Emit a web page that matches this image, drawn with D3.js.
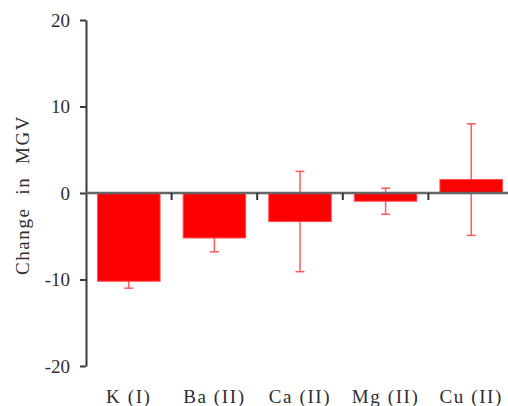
<!DOCTYPE html>
<html>
<head>
<meta charset="utf-8">
<script src="https://cdn.jsdelivr.net/npm/d3@7"></script>
<style>
  body { margin: 0; background: #fff; }
  text { font-family: "Times New Roman", "Liberation Serif", serif; fill: #2e2e2e; }
</style>
</head>
<body>
<div id="viz"></div>
<script>
var categories = ["K (I)", "Ba (II)", "Ca (II)", "Mg (II)", "Cu (II)"];
var means = [-10.2, -5.2, -3.3, -0.95, 1.55];
var errors = [0.8, 1.6, 5.8, 1.5, 6.45];
var yTicks = [-20, -10, 0, 10, 20];

var width = 508, height = 406;
var margin = {top: 20, right: -6, bottom: 40, left: 86};

var x = d3.scaleBand()
  .domain(categories)
  .range([margin.left, width - margin.right])
  .paddingInner(0.27)
  .paddingOuter(0.135);

var y = d3.scaleLinear()
  .domain([-20, 20])
  .range([height - margin.bottom, margin.top]);

var svg = d3.select('#viz').append('svg')
  .attr('width', width)
  .attr('height', height);

// error bars (drawn first, bars cover the inner half)
var eb = svg.append('g')
  .attr('stroke', '#ff5a5a')
  .attr('stroke-width', 1.5);

means.forEach(function(m, i) {
  var cx = x(categories[i]) + x.bandwidth() / 2;
  eb.append('line')
    .attr('x1', cx).attr('x2', cx)
    .attr('y1', y(m + errors[i])).attr('y2', y(m - errors[i]));
  [m + errors[i], m - errors[i]].forEach(function(v) {
    eb.append('line')
      .attr('x1', cx - 4.5).attr('x2', cx + 4.5)
      .attr('y1', y(v)).attr('y2', y(v));
  });
});

// bars
svg.append('g')
  .selectAll('rect')
  .data(means)
  .join('rect')
  .attr('x', (d, i) => x(categories[i]))
  .attr('width', x.bandwidth())
  .attr('y', d => y(Math.max(0, d)))
  .attr('height', d => Math.abs(y(d) - y(0)))
  .attr('fill', '#ff0000')
  .attr('stroke', '#ff4a4a')
  .attr('stroke-width', 1);

// y axis
svg.append('g')
  .attr('transform', 'translate(' + margin.left + ',0)')
  .call(d3.axisLeft(y).tickValues(yTicks).tickFormat(d => String(d))
    .tickSize(6).tickPadding(10).tickSizeOuter(0))
  .call(g => g.selectAll('line, path').attr('stroke', '#3a3a3a').attr('stroke-width', 2))
  .call(g => g.selectAll('text').attr('font-size', 19).attr('fill', '#2e2e2e')
    .style('font-family', '"Times New Roman", "Liberation Serif", serif'));

// zero line with category boundary ticks
var zero = svg.append('g')
  .attr('stroke', '#666');

zero.append('line')
  .attr('x1', x.range()[0]).attr('x2', x.range()[1])
  .attr('y1', y(0)).attr('y2', y(0))
  .attr('stroke-width', 2.5);

d3.range(1, categories.length + 1).forEach(function(i) {
  var bx = x.range()[0] + i * x.step();
  zero.append('line')
    .attr('x1', bx).attr('x2', bx)
    .attr('y1', y(0)).attr('y2', y(0) + 7)
    .attr('stroke', '#333')
    .attr('stroke-width', 2);
});

// category labels at bottom
svg.append('g')
  .attr('transform', 'translate(0,' + (height - margin.bottom) + ')')
  .call(d3.axisBottom(x).tickSize(0).tickPadding(24))
  .call(g => g.select('.domain').remove())
  .call(g => g.selectAll('text').attr('font-size', 19).attr('fill', '#2e2e2e')
    .attr('letter-spacing', '1.6px')
    .style('font-family', '"Times New Roman", "Liberation Serif", serif'));

// y title
svg.append('text')
  .attr('transform', 'translate(29,195) rotate(-90)')
  .attr('text-anchor', 'middle')
  .attr('font-size', 19)
  .attr('letter-spacing', '1.6px')
  .style('white-space', 'pre')
  .text('Change  in  MGV');
</script>
</body>
</html>
